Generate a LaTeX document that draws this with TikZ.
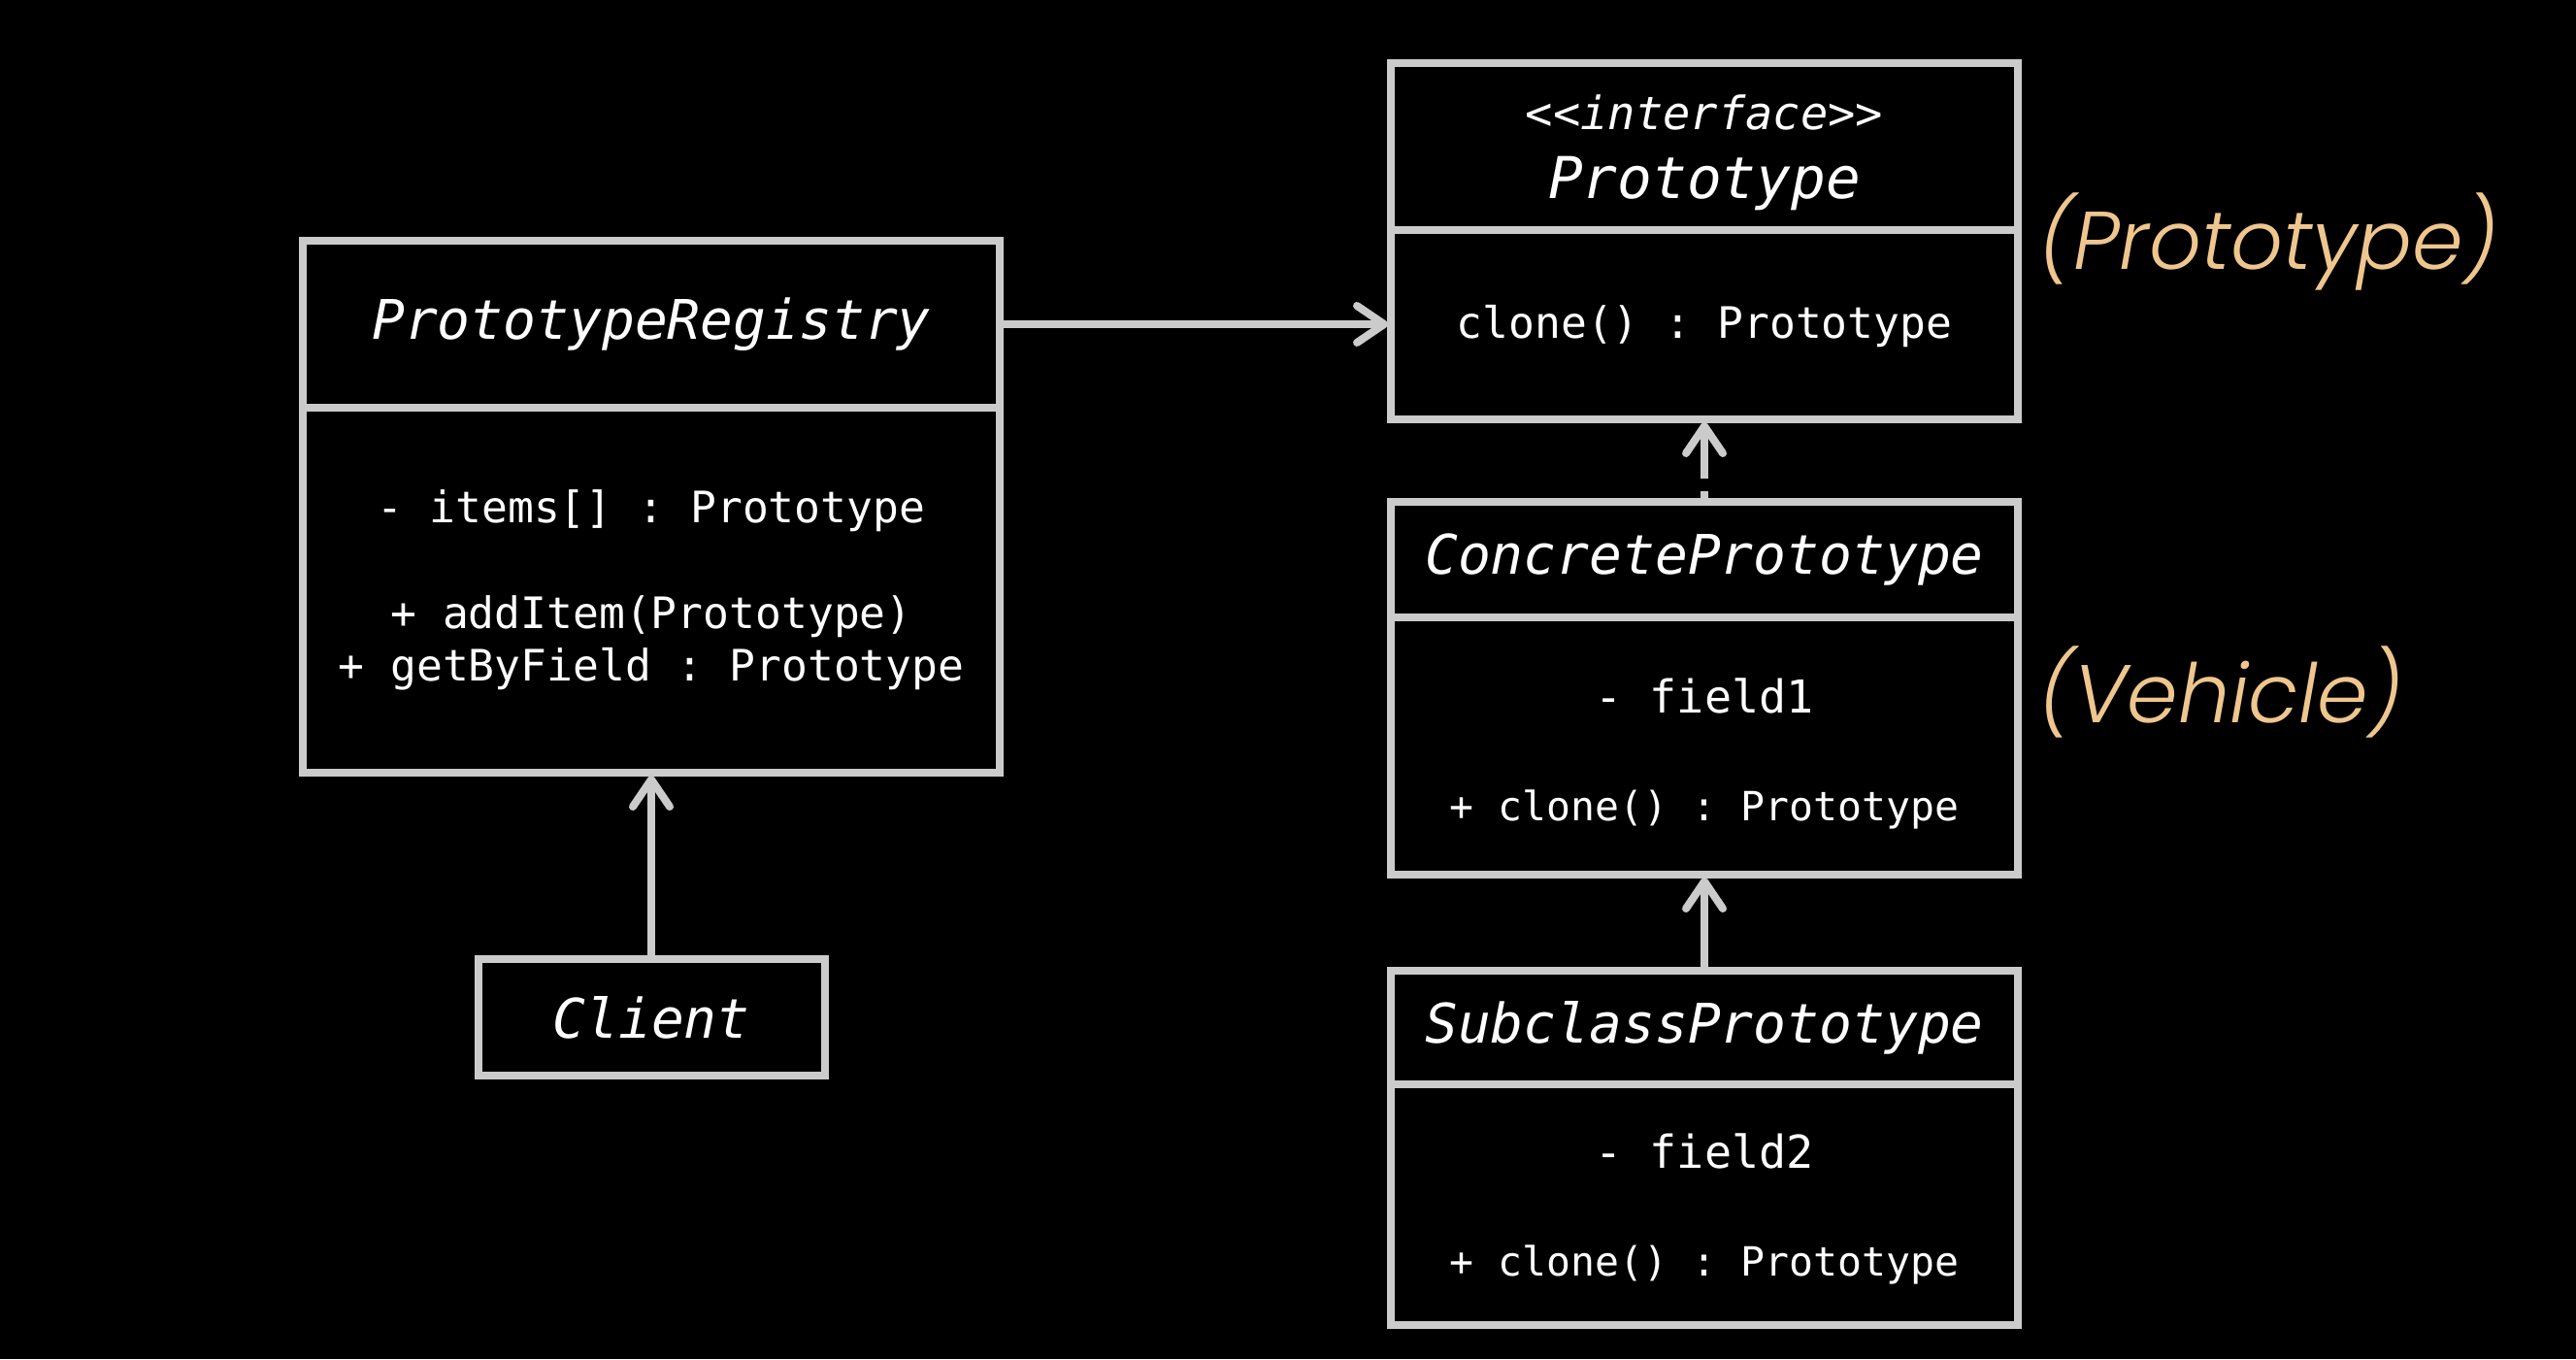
\documentclass[tikz,border=0pt]{standalone}
\usepackage{fontspec}
\setmonofont{DejaVu Sans Mono}
\newfontfamily\notefont{Poppins Light Italic}
\usetikzlibrary{positioning,arrows.meta}
\definecolor{linegray}{RGB}{203,203,203}
\definecolor{notetan}{RGB}{238,198,142}
\tikzstyle{head} = [rectangle, draw=linegray, line width=0.08cm, outer sep=0pt, inner sep=0pt, text=white, align=center, font=\ttfamily\itshape\fontsize{16}{18}\selectfont]
\tikzstyle{body} = [rectangle, draw=linegray, line width=0.08cm, outer sep=0pt, inner sep=0pt, text=white, align=center, font=\ttfamily\fontsize{12.7}{15.3}\selectfont]
\tikzstyle{note} = [text=notetan, anchor=west, inner sep=0pt, font=\notefont\fontsize{24}{28}\selectfont]
\tikzstyle{arrow} = [draw=linegray, line width=0.08cm, shorten >=0.03cm, -{Straight Barb[length=0.28cm, width=0.38cm, round]}]
\newcommand{\fieldline}[1]{{\fontsize{13.3}{15.3}\selectfont #1}}
\newcommand{\cloneline}[1]{{\fontsize{11.8}{15.3}\selectfont #1}}

\begin{document}
\begin{tikzpicture}
	\fill[black] (0,0) rectangle (26.54,14);
	\useasboundingbox (0,0) rectangle (26.54,14);
		
		\node (reghead) [head, minimum width=7.18cm, minimum height=1.72cm] at (6.71,10.66) {PrototypeRegistry};
		\node (regbody) [body, minimum width=7.18cm, minimum height=3.76cm, below=0pt of reghead] {- items[] : Prototype\\[0.55cm] + addItem(Prototype)\\+ getByField : Prototype};
		\node (client) [head, minimum width=3.57cm, minimum height=1.20cm, below=1.92cm of regbody] {Client};
		
		\node (protohead) [head, minimum width=6.46cm, minimum height=1.72cm] at (17.56,12.49) {\rule{0pt}{0.48cm}{\fontsize{13.4}{16}\selectfont <<interface>>}\\[0.08cm]{\fontsize{16.9}{18}\selectfont Prototype}};
		\node (protobody) [body, minimum width=6.46cm, minimum height=1.95cm, below=0pt of protohead] {\rule{0pt}{0.38cm}clone() : Prototype};
		
		\node (conchead) [head, minimum width=6.46cm, minimum height=1.19cm, below=0.85cm of protobody] {ConcretePrototype};
		\node (concbody) [body, minimum width=6.46cm, minimum height=2.65cm, below=0pt of conchead] {\rule{0pt}{0.52cm}\fieldline{- field1}\\[0.57cm] \cloneline{+ clone() : Prototype}};
		
		\node (subhead) [head, minimum width=6.46cm, minimum height=1.17cm, below=0.99cm of concbody] {SubclassPrototype};
		\node (subbody) [body, minimum width=6.46cm, minimum height=2.48cm, below=0pt of subhead] {\rule{0pt}{0.45cm}\fieldline{- field2}\\[0.57cm] \cloneline{+ clone() : Prototype}};
		
		\node (protonote) [note] at (21.0,11.51) {(Prototype)};
		\node (vehnote) [note] at (21.0,6.87) {(Vehicle)};
		
		\draw [arrow] (reghead.east) -- (reghead.east -| protobody.west);
		\draw [arrow] (client.north) -- (regbody.south);
		\draw [arrow, dash pattern=on 0.11cm off 0.13cm on 2cm] (conchead.north) -- (protobody.south);
		\draw [arrow] (subhead.north) -- (concbody.south);
		
	\end{tikzpicture}
\end{document}
